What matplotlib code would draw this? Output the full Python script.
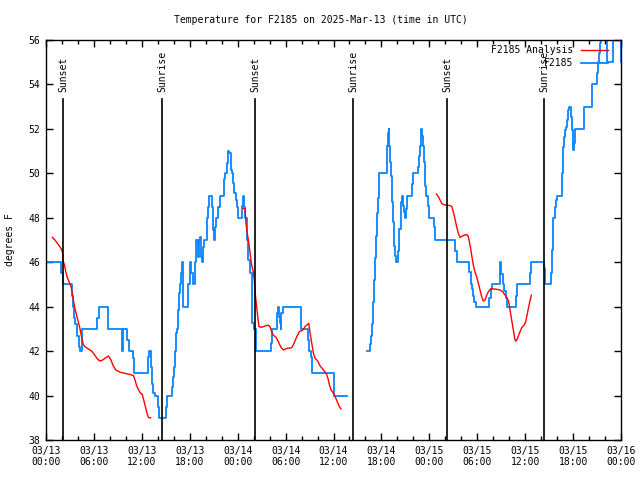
import matplotlib
matplotlib.use('Agg')
from matplotlib import pyplot as plt
from matplotlib.ticker import MultipleLocator
import matplotlib.transforms as mtransforms

plt.rcParams['font.family'] = ['DejaVu Sans Mono']
plt.rcParams['font.size'] = 7

# time axis: hours after 2025-03-13 00:00 UTC
xtick_labels = ["03/13\n00:00", "03/13\n06:00", "03/13\n12:00", "03/13\n18:00",
                "03/14\n00:00", "03/14\n06:00", "03/14\n12:00", "03/14\n18:00",
                "03/15\n00:00", "03/15\n06:00", "03/15\n12:00", "03/15\n18:00",
                "03/16\n00:00"]

event_hours = [2.17, 14.56, 26.21, 38.48, 50.25, 62.40]
event_names = ["Sunset", "Sunrise", "Sunset", "Sunrise", "Sunset", "Sunrise"]

# observed F2185 (step values)
obs1_t = [0.0, 1.92, 2.17, 3.3, 3.42, 3.55, 3.67, 3.84, 4.1, 4.22, 4.47, 6.43, 6.6, 7.72, 7.8,
          9.48, 9.55, 9.65, 10.19, 10.44, 10.9, 11.05, 12.81, 12.94, 13.1, 13.25, 13.4, 13.6,
          13.98, 14.15, 15.07, 15.15, 15.82, 15.95, 16.07, 16.2, 16.32, 16.45, 16.57, 16.7,
          16.82, 16.95, 17.07, 17.2, 17.82, 17.99, 18.16, 18.45, 18.66, 18.78, 18.99, 19.2,
          19.28, 19.41, 19.58, 19.7, 19.83, 20.12, 20.2, 20.33, 20.45, 20.74, 20.95, 21.08,
          21.16, 21.29, 21.58, 21.79, 22.29, 22.41, 22.71, 22.83, 22.96, 23.13, 23.33, 23.46,
          23.59, 23.75, 23.92, 24.08, 24.5, 24.67, 24.75, 24.92, 25.13, 25.34, 25.54, 25.75,
          25.84, 26.09, 26.3, 28.17, 28.3, 28.88, 29.0, 29.21, 29.3, 29.38, 29.47, 29.63,
          31.93, 32.76, 32.93, 33.14, 33.26, 36.1, 37.65]
obs1_v = [46, 45.5, 45, 44.5, 44, 43.5, 43.2, 42.7, 42.2, 42, 43, 43.5, 44, 43.5, 43,
          42.5, 42, 43, 42.5, 42, 41.7, 41, 41.75, 42, 41.3, 40.5, 40.1, 40,
          39.5, 39, 39.5, 40, 40.4, 40.85, 41.3, 42, 42.8, 43, 43.85, 44.6,
          45, 45.5, 46, 44, 45, 46, 45.5, 45, 46, 47, 46.25, 47,
          47.15, 46.25, 46, 46.7, 47, 47.5, 48, 48.5, 49, 48.5, 47.45, 47,
          47.6, 48, 48.5, 49, 49.75, 50, 50.45, 51, 50.9, 50.15, 50, 49.55,
          49.1, 48.8, 48.5, 48, 48.55, 49, 48.5, 48, 47, 46.1, 45.5, 44.3,
          43.25, 43, 42, 42.35, 43, 43.7, 44, 43.55, 43.25, 43, 43.7, 44,
          43, 42.5, 42, 41.75, 41, 40, 40]

obs2_t = [40.15, 40.57, 40.65, 40.78, 40.9, 41.03, 41.16, 41.28, 41.41, 41.53, 41.7, 42.66,
          42.74, 42.82, 42.9, 42.99, 43.12, 43.2, 43.37, 43.49, 43.62, 43.74, 43.87, 44.12,
          44.24, 44.41, 44.54, 44.66, 44.83, 44.95, 45.08, 45.2, 45.87, 46.0, 46.62, 46.75,
          46.87, 46.95, 47.04, 47.16, 47.33, 47.45, 47.58, 47.87, 47.95, 48.62, 48.7, 51.26,
          51.51, 53.01, 53.27, 53.39, 53.52, 53.64, 53.81, 55.51, 55.68, 55.8, 56.85, 56.98,
          57.02, 57.19, 57.35, 57.6, 57.77, 58.85, 59.02, 60.61, 60.73, 62.31, 62.48, 63.19,
          63.32, 63.44, 63.53, 63.74, 63.86, 64.03, 64.57, 64.7, 64.82, 64.95, 65.07, 65.2,
          65.41, 65.53, 65.7, 65.82, 65.95, 66.03, 66.11, 66.24, 67.37, 68.41, 69.05, 69.17,
          69.3, 69.38, 69.5, 69.62, 70.29, 70.96, 71.1, 71.96, 72.0]
obs2_v = [42, 42.3, 42.7, 43.2, 44.2, 45.2, 46.2, 47.2, 48.2, 48.9, 50, 50.5,
          51.25, 51.8, 52, 51.25, 50.5, 49.9, 48.7, 47.8, 46.75, 46.3, 46, 46.5,
          47.5, 48.7, 49, 48.55, 48.25, 48, 48.4, 49, 49.5, 50, 50.3, 50.8,
          51.25, 52, 51.7, 51.25, 50.5, 49.45, 49, 48.55, 48, 47.6, 47, 46.5,
          46, 45.57, 45, 44.8, 44.5, 44.2, 44, 44.37, 44.8, 45, 46, 45.75,
          45.45, 45, 44.7, 44.4, 44, 44.5, 45, 45.5, 46, 45.75, 45, 45.5,
          46.55, 47.45, 48, 48.5, 48.8, 49, 50, 51.2, 51.65, 51.95, 52.1, 52.4,
          52.85, 53, 52.55, 51.95, 51.35, 51.05, 51.35, 52, 53, 54, 54.5, 55,
          55.4, 55.85, 56, 57, 55, 56, 57, 55, 55]

# F2185 Analysis
ana1_t = [0.79, 1.12, 1.54, 1.88, 2.05, 2.17, 2.3, 2.46, 2.67, 2.92, 3.13, 3.3, 3.42, 3.63,
          3.84, 4.05, 4.26, 4.47, 4.67, 4.88, 5.3, 5.72, 6.05, 6.43, 6.76, 7.09, 7.47, 7.8,
          8.1, 8.43, 8.76, 9.27, 9.89, 10.52, 10.94, 11.15, 11.36, 11.56, 11.77, 12.06, 12.27,
          12.48, 12.69, 12.86, 13.11]
ana1_v = [47.12, 47.0, 46.8, 46.62, 46.47, 46.02, 45.9, 45.6, 45.3, 45.1, 44.9, 44.6, 44.3, 43.9,
          43.6, 43.3, 43.0, 42.6, 42.3, 42.2, 42.1, 42.0, 41.85, 41.65, 41.55, 41.6, 41.7, 41.78,
          41.63, 41.33, 41.15, 41.05, 41.0, 40.95, 40.9, 40.7, 40.43, 40.28, 40.13, 40.05, 39.75,
          39.45, 39.15, 39.0, 39.0]
ana2_t = [24.67, 24.92, 25.04, 25.2, 25.4, 25.58, 25.75, 25.95, 26.08, 26.2, 26.33, 26.5, 26.67,
          27.0, 27.42, 27.84, 28.05, 28.26, 28.47, 28.8, 29.1, 29.38, 29.72, 30.14, 30.77, 31.06,
          31.4, 31.73, 32.15, 32.44, 32.74, 32.9, 33.07, 33.28, 33.49, 33.7, 33.99, 34.33, 34.75,
          35.08, 35.3, 35.5, 35.7, 36.0, 36.3, 36.5, 36.73, 36.94]
ana2_v = [48.42, 48.42, 47.75, 47.3, 46.85, 46.33, 45.87, 45.57, 45.2, 44.6, 44.15, 43.6, 43.1,
          43.07, 43.13, 43.17, 43.1, 42.87, 42.72, 42.62, 42.42, 42.2, 42.05, 42.12, 42.15, 42.35,
          42.65, 42.87, 42.95, 43.1, 43.2, 43.25, 42.8, 42.35, 41.9, 41.67, 41.57, 41.33, 41.15,
          41.0, 40.78, 40.47, 40.25, 40.1, 39.87, 39.7, 39.5, 39.4]
ana3_t = [48.88, 49.13, 49.34, 49.55, 49.76, 50.05, 50.6, 50.83, 51.0, 51.2, 51.42, 51.63, 51.84,
          52.26, 52.68, 52.88, 53.1, 53.3, 53.51, 53.72, 53.93, 54.14, 54.35, 54.55, 54.76, 54.97,
          55.18, 55.39, 55.68, 56.02, 56.44, 56.85, 57.19, 57.48, 57.77, 57.98, 58.1, 58.31, 58.52,
          58.73, 58.85, 59.02, 59.27, 59.56, 59.86, 60.07, 60.28, 60.53, 60.78]
ana3_v = [49.07, 48.95, 48.8, 48.65, 48.6, 48.57, 48.55, 48.5, 48.27, 47.97, 47.6, 47.3, 47.12,
          47.2, 47.25, 47.15, 46.77, 46.32, 45.87, 45.55, 45.35, 45.05, 44.75, 44.45, 44.25, 44.3,
          44.52, 44.67, 44.8, 44.8, 44.78, 44.75, 44.67, 44.52, 44.37, 44.15, 43.85, 43.4, 42.95,
          42.5, 42.45, 42.55, 42.8, 43.05, 43.17, 43.32, 43.7, 44.15, 44.52]

BLUE = '#0a84ff'

fig = plt.figure(figsize=(6.4, 4.8), dpi=100)
ax = fig.add_axes([46/640, 40/480, 575/640, 400/480])

b1, = ax.plot(obs1_t, obs1_v, drawstyle='steps-post', color=BLUE, lw=1.3, zorder=2)
ax.plot(obs2_t, obs2_v, drawstyle='steps-post', color=BLUE, lw=1.3, zorder=2)
r1, = ax.plot(ana1_t, ana1_v, color='red', lw=1.0, zorder=3)
ax.plot(ana2_t, ana2_v, color='red', lw=1.0, zorder=3)
ax.plot(ana3_t, ana3_v, color='red', lw=1.0, zorder=3)

trans = mtransforms.blended_transform_factory(ax.transData, ax.transAxes)
for h, name in zip(event_hours, event_names):
    ax.axvline(h, ymin=0, ymax=0.8525, color='black', lw=1.2, zorder=4)
    ax.text(h, 0.87, name, transform=trans, rotation=90, ha='center', va='bottom')

ax.set_xlim(0, 72)
ax.set_ylim(38, 56)
ax.xaxis.set_major_locator(MultipleLocator(6))
ax.xaxis.set_minor_locator(MultipleLocator(2))
ax.set_xticks(range(0, 73, 6))
ax.set_xticklabels(xtick_labels)
ax.set_yticks(range(38, 57, 2))
ax.tick_params(which='major', direction='in', top=True, right=True, length=5, width=1, pad=4)
ax.tick_params(which='minor', direction='in', top=True, right=False, length=3, width=1)
ax.tick_params(axis='y', which='minor', left=False, right=False)
for s in ax.spines.values():
    s.set_linewidth(1)

fig.text(321/640, 1 - 20/480, 'Temperature for F2185 on 2025-Mar-13 (time in UTC)',
         ha='center', va='center')
fig.text(10/640, 0.5, 'degrees F', rotation=90, ha='center', va='center')

ax.legend([r1, b1], ['F2185 Analysis', 'F2185'], loc='upper right',
          bbox_to_anchor=(0.977, 0.987), frameon=False, markerfirst=False,
          handlelength=2.8, borderpad=0, borderaxespad=0, handletextpad=0.8,
          labelspacing=0.3)

plt.savefig('out.png', dpi=100)
